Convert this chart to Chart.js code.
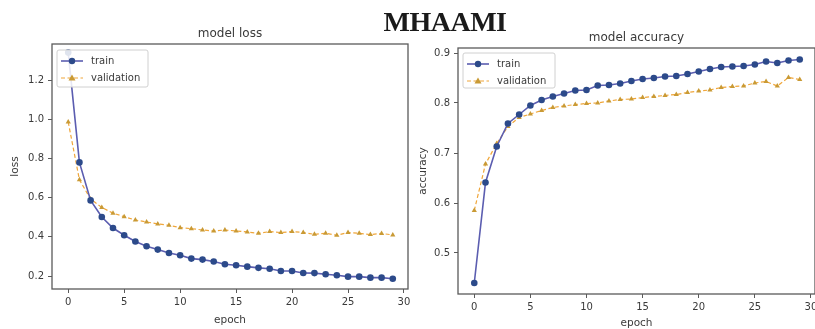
<!DOCTYPE html>
<html>
<head>
<meta charset="utf-8">
<script src="https://cdn.jsdelivr.net/npm/chart.js@4.4.1/dist/chart.umd.min.js"></script>
<style>
  html, body { margin:0; padding:0; background:#fff; }
  #wrap { position:relative; width:815px; height:329px; overflow:hidden; }
  #wrap canvas { position:absolute; top:0; }
  #heading { position:absolute; left:0; width:890px; top:6px; text-align:center;
    font:bold 28px "Liberation Serif", "Times New Roman", serif; color:#1a1a1a; letter-spacing:-0.5px; }
</style>
</head>
<body>
<div id="wrap">
  <canvas id="lossChart" style="left:0" width="412" height="329"></canvas>
  <canvas id="accChart" style="left:410px" width="409" height="329"></canvas>
  <div id="heading">MHAAMI</div>
</div>
<script>
const epochs = [0,1,2,3,4,5,6,7,8,9,10,11,12,13,14,15,16,17,18,19,20,21,22,23,24,25,26,27,28,29];
const lossTrain = [1.34,0.78,0.586,0.501,0.445,0.408,0.376,0.352,0.335,0.318,0.306,0.289,0.284,0.274,0.260,0.255,0.248,0.242,0.237,0.226,0.226,0.216,0.215,0.209,0.204,0.197,0.197,0.192,0.192,0.186];
const lossVal = [0.986,0.691,0.593,0.550,0.521,0.503,0.486,0.476,0.466,0.459,0.447,0.442,0.435,0.430,0.435,0.430,0.425,0.418,0.427,0.422,0.427,0.422,0.413,0.418,0.408,0.422,0.418,0.412,0.417,0.410];
const accTrain = [0.440,0.641,0.713,0.759,0.777,0.795,0.806,0.813,0.819,0.825,0.826,0.835,0.836,0.839,0.844,0.848,0.850,0.853,0.854,0.858,0.863,0.868,0.872,0.873,0.874,0.877,0.883,0.880,0.885,0.887];
const accVal = [0.585,0.678,0.719,0.753,0.771,0.778,0.785,0.791,0.794,0.797,0.799,0.800,0.804,0.807,0.808,0.811,0.813,0.815,0.817,0.821,0.824,0.826,0.831,0.833,0.834,0.840,0.843,0.834,0.851,0.847];
const xTicks = [0,5,10,15,20,25,30];
const lossTicks = [0.2,0.4,0.6,0.8,1.0,1.2];
const accTicks = [0.5,0.6,0.7,0.8,0.9];
const seriesNames = ['train','validation'];

const TXT = '#3a3a3a';
const SPINE = '#5a5a5a';
const BLUE_LINE = '#5b5db0', BLUE_PT = '#2c4a8a';
const ORANGE_LINE = '#f0a63a', ORANGE_PT = '#c99a35';

const pts = ys => epochs.map((e,i)=>({x:e, y:ys[i]}));

// matplotlib-ish decorations: spines, titles, axis labels, legend box
const decor = {
  id:'decor',
  afterDraw(chart, args, o){
    const {ctx, chartArea:a} = chart;
    ctx.save();
    ctx.strokeStyle = SPINE; ctx.lineWidth = 1.3;
    ctx.strokeRect(a.left, a.top, a.right-a.left, a.bottom-a.top);
    ctx.fillStyle = TXT; ctx.textAlign = 'center'; ctx.textBaseline = 'middle';
    ctx.font = '12px "DejaVu Sans"';
    ctx.fillText(o.title, (a.left+a.right)/2, o.titleY);
    ctx.font = '10.5px "DejaVu Sans"';
    ctx.fillText('epoch', (a.left+a.right)/2, o.xlabelY);
    ctx.save();
    ctx.translate(o.ylabelX, (a.top+a.bottom)/2);
    ctx.rotate(-Math.PI/2);
    ctx.fillText(o.ylabel, 0, 0);
    ctx.restore();
    // legend
    const L = o.legend;
    ctx.fillStyle = 'rgba(255,255,255,0.85)';
    ctx.strokeStyle = '#d0d0d0'; ctx.lineWidth = 1;
    ctx.beginPath(); ctx.roundRect(L.x, L.y, L.w, L.h, 2); ctx.fill(); ctx.stroke();
    ctx.font = '10px "DejaVu Sans"'; ctx.textAlign = 'left';
    chart.data.datasets.forEach((ds,i)=>{
      const y = L.y + 11 + i*17;
      ctx.strokeStyle = ds.borderColor; ctx.lineWidth = ds.borderWidth;
      ctx.setLineDash(ds.borderDash || []);
      ctx.beginPath(); ctx.moveTo(L.x+4, y); ctx.lineTo(L.x+26, y); ctx.stroke();
      ctx.setLineDash([]);
      ctx.fillStyle = ds.pointBackgroundColor;
      ctx.beginPath();
      if(ds.pointStyle === 'triangle'){
        ctx.moveTo(L.x+15, y-3.5); ctx.lineTo(L.x+18.5, y+2.5); ctx.lineTo(L.x+11.5, y+2.5); ctx.closePath();
      } else {
        ctx.arc(L.x+15, y, 3.2, 0, Math.PI*2);
      }
      ctx.fill();
      ctx.fillStyle = TXT;
      ctx.fillText(ds.label, L.x+34, y);
    });
    ctx.restore();
  }
};

function makeChart(id, train, val, yMin, yMax, yTicks, xMax, pad, yW, xH, deco){
  return new Chart(document.getElementById(id), {
    type:'line',
    data:{datasets:[
      {label:seriesNames[0], data:pts(train), borderColor:BLUE_LINE, borderWidth:1.6,
       pointBackgroundColor:BLUE_PT, pointBorderColor:BLUE_PT, pointRadius:3.3, pointBorderWidth:0, pointStyle:'circle'},
      {label:seriesNames[1], data:pts(val), borderColor:ORANGE_LINE, borderWidth:1.2, borderDash:[4,2.5],
       pointBackgroundColor:ORANGE_PT, pointBorderColor:ORANGE_PT, pointRadius:3, pointBorderWidth:0, pointStyle:'triangle'}
    ]},
    options:{
      responsive:false, animation:false, devicePixelRatio:1,
      layout:{padding:pad},
      plugins:{legend:{display:false}, tooltip:{enabled:false}, title:{display:false}, decor:deco},
      scales:{
        x:{type:'linear', min:-1.45, max:xMax,
           afterBuildTicks:s=>{ s.ticks = xTicks.map(v=>({value:v})); },
           afterFit:s=>{ s.height = xH; s.paddingLeft = 0; s.paddingRight = 0; },
           grid:{display:true, drawOnChartArea:false, drawTicks:true, tickLength:4, tickColor:SPINE},
           border:{display:false},
           ticks:{color:TXT, font:{family:'DejaVu Sans', size:10}, padding:3, maxRotation:0, callback:v=>String(v)}},
        y:{type:'linear', min:yMin, max:yMax,
           afterBuildTicks:s=>{ s.ticks = yTicks.map(v=>({value:v})); },
           afterFit:s=>{ s.width = yW; s.paddingTop = 0; s.paddingBottom = 0; },
           grid:{display:true, drawOnChartArea:false, drawTicks:true, tickLength:4, tickColor:SPINE},
           border:{display:false},
           ticks:{color:TXT, font:{family:'DejaVu Sans', size:10}, padding:4, callback:v=>v.toFixed(1)}}
      }
    },
    plugins:[decor]
  });
}

// canvases are 4px wider than the plot needs: chart.js keeps ~4px back on the right
makeChart('lossChart', lossTrain, lossVal, 0.134, 1.384, lossTicks, 30.36,
  {top:44, right:0, left:0, bottom:0}, 52, 40,
  {title:'model loss', titleY:34, xlabelY:320, ylabel:'loss', ylabelX:15,
   legend:{x:57, y:50, w:91, h:37}});

makeChart('accChart', accTrain, accVal, 0.418, 0.910, accTicks, 30.36,
  {top:48, right:0, left:0, bottom:0}, 48, 35,
  {title:'model accuracy', titleY:38, xlabelY:323, ylabel:'accuracy', ylabelX:13,
   legend:{x:53, y:53, w:92, h:35}});
</script>
</body>
</html>
